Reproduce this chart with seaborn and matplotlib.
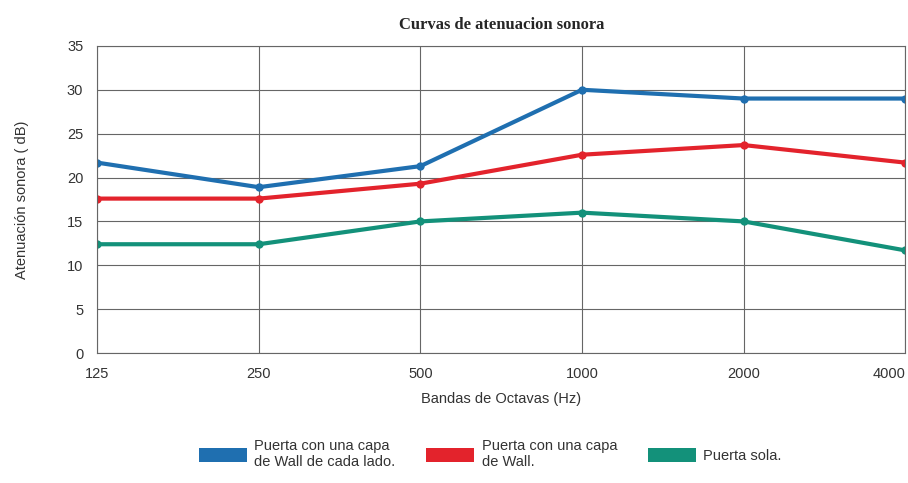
import pandas as pd
import matplotlib.pyplot as plt
import seaborn as sns
from matplotlib.patches import Patch

# Data
bands = ['125', '250', '500', '1000', '2000', '4000']
ambos_lados = [21.7, 18.9, 21.3, 30.0, 29.0, 29.0]
una_capa = [17.6, 17.6, 19.3, 22.6, 23.7, 21.7]
puerta_sola = [12.4, 12.4, 15.0, 16.0, 15.0, 11.7]

series_names = ['Puerta con una capa\nde Wall de cada lado.',
                'Puerta con una capa\nde Wall.',
                'Puerta sola.']
colors = ['#1f6fb0', '#e3232c', '#13917a']

df = pd.DataFrame({
    'Banda': bands * 3,
    'pos': list(range(len(bands))) * 3,
    'dB': ambos_lados + una_capa + puerta_sola,
    'Serie': [series_names[0]] * 6 + [series_names[1]] * 6 + [series_names[2]] * 6,
})

sns.set_style('white')
plt.rcParams['font.family'] = ['Liberation Sans', 'DejaVu Sans']

fig = plt.figure(figsize=(9.08, 4.83), dpi=100)
ax = fig.add_axes([0.107, 0.269, 0.890, 0.636])

sns.lineplot(data=df, x='pos', y='dB', hue='Serie', palette=colors,
             marker='o', markersize=6, markeredgewidth=0, linewidth=3,
             legend=False, ax=ax)

ax.set_xlim(0, len(bands) - 1)
ax.set_ylim(0, 35)
ax.set_xticks(range(len(bands)))
ax.set_xticklabels(bands, fontsize=10.5, color='#333333')
# keep the last label inside the figure
ax.get_xticklabels()[-1].set_horizontalalignment('right')
ax.set_yticks(range(0, 36, 5))
ax.tick_params(axis='y', labelsize=10.5, colors='#333333', length=0, pad=10)
ax.tick_params(axis='x', length=0, pad=10)
ax.grid(True, color='#666666', linewidth=0.8)
for s in ax.spines.values():
    s.set_color('#666666')
    s.set_linewidth(0.8)

ax.set_xlabel('Bandas de Octavas (Hz)', fontsize=10.5, color='#333333', labelpad=8)
ax.set_ylabel('Atenuación sonora ( dB)', fontsize=10.5, color='#333333', labelpad=27)
ax.set_title('Curvas de atenuacion sonora', family='Liberation Serif',
             fontweight='bold', fontsize=12, pad=12)

handles = [Patch(facecolor=c, edgecolor='none') for c in colors]
fig.legend(handles, series_names, loc='center', bbox_to_anchor=(0.54, 0.06),
           ncol=3, frameon=False, fontsize=10.5, handlelength=3.3,
           handleheight=1.1, columnspacing=2.1, handletextpad=0.5,
           labelcolor='#333333')

fig.savefig('out.png', dpi=100)
